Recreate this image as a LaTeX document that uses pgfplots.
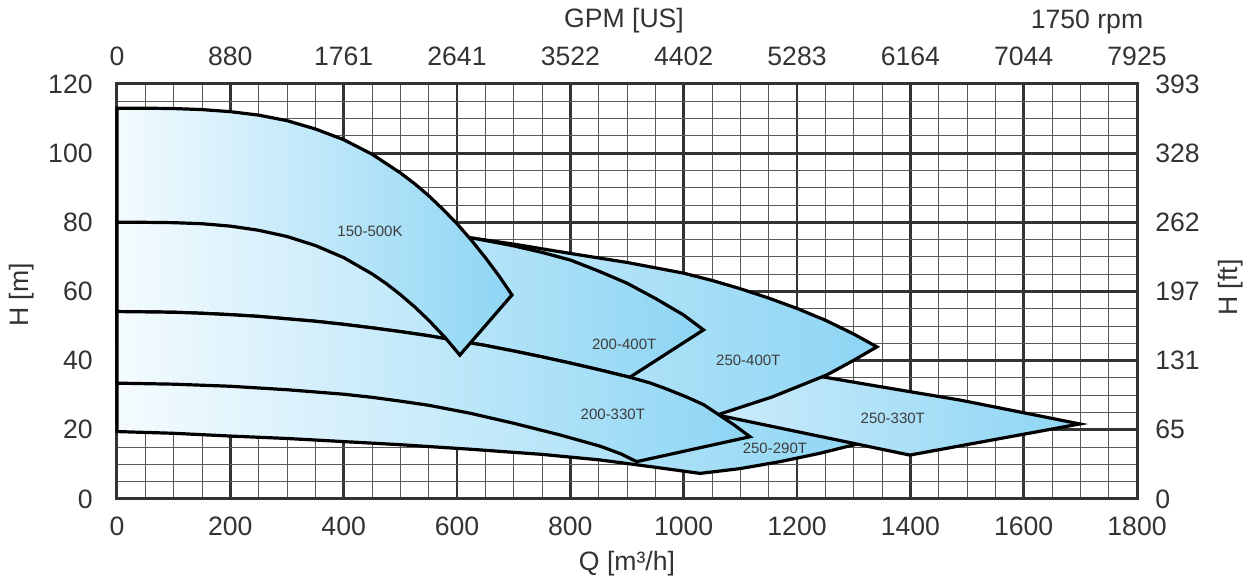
\documentclass[border=0pt]{standalone}
\usepackage{pgfplots}
\pgfplotsset{compat=1.18}
\usepackage{fontspec}
\setmainfont{Liberation Sans}

\definecolor{txt}{HTML}{333333}
\definecolor{tagtxt}{HTML}{3D3D3D}
\definecolor{gridmaj}{HTML}{333333}
\definecolor{gridmin}{HTML}{5A5A5A}
\definecolor{pale}{HTML}{F4FBFE}
\definecolor{paleB}{HTML}{D6EFFB}
\definecolor{sky}{HTML}{8DD5F4}

\newcommand{\tickfont}{\fontsize{13.3}{16}\selectfont}
\newcommand{\tagfont}{\fontsize{7.5}{9}\selectfont}

\pgfplotsset{
  zone/.style={draw=black, line width=1.6pt, line join=miter, left color=pale, right color=sky},
}
\tikzset{
  tag/.style={font=\tagfont, text=tagtxt, anchor=center},
}

\begin{document}
\begin{tikzpicture}
% metric axes: Q in m3/h, H in m
\begin{axis}[
  at={(0,0)}, anchor=south west,
  scale only axis, width=510pt, height=207.5pt,
  xmin=0, xmax=1800, ymin=0, ymax=120,
  xtick={0,200,...,1800},
  xticklabels={0,200,400,600,800,1000,1200,1400,1600,1800},
  ytick={0,20,...,120},
  yticklabels={0,20,40,60,80,100,120},
  minor x tick num=3, minor y tick num=3,
  xtick pos=bottom, ytick pos=left,
  major tick length=0pt, minor tick length=0pt,
  grid=both,
  major grid style={draw=gridmaj, line width=1.4pt},
  minor grid style={draw=gridmin, line width=0.5pt},
  axis line style={draw=gridmaj, line width=1.5pt},
  tick label style={font=\tickfont, text=txt},
  xticklabel style={anchor=base, yshift=-18.5pt},
  yticklabel style={anchor=east, inner sep=0pt, xshift=-12pt},
  clip=false,
]
% 250-290T
\addplot[zone] coordinates {
  (0,40) (0,19.5) (100,19.0) (200,18.2) (300,17.5) (400,16.6) (500,15.7)
  (623,14.4) (750,12.9) (852,11.3) (940,9.4) (1029,7.4)
  (1100,8.8) (1170,10.8) (1240,13.2) (1311,16.1)
  (1345,17.5) (1200,22) (1020,27.5) (600,30)
} -- cycle;
% 250-330T
\addplot[zone, left color=paleB] coordinates {
  (950,28) (1059,24.3) (1399,12.7) (1699,21.7) (1488,28.6) (1346,32.5)
  (1246,35.3) (1100,39.5) (950,44)
} -- cycle;
% 250-400T
\addplot[zone] coordinates {
  (0,82) (300,80) (500,77.5) (629,75.4) (700,73.7) (800,71.0) (900,68.4)
  (1000,65.3) (1050,63.2) (1100,60.8) (1150,58.1) (1200,55.1) (1250,51.7)
  (1300,47.7) (1341,44)
  (1300,40.1) (1253,35.9) (1200,32.4) (1156,29.5) (1100,26.5) (1059,24.3)
  (1000,21) (0,45)
} -- cycle;
% 200-400T
\addplot[zone] coordinates {
  (0,82) (300,80) (500,77.5) (629,75.4) (700,73.2) (750,71.3) (800,69.1)
  (850,65.9) (900,62.4) (950,58.0) (1000,53.2) (1035,48.9) (905,35.2)
  (850,37.4) (800,39.3) (750,41.1) (700,42.8) (650,44.4) (600,45.8)
  (550,47.2) (500,48.4) (450,49.5) (400,50.5) (350,51.4) (300,52.1)
  (250,52.8) (200,53.3) (150,53.7) (100,54.0) (50,54.1) (0,54.2)
} -- cycle;
% 200-330T
\addplot[zone] coordinates {
  (0,54.2) (50,54.1) (100,54.0) (150,53.7) (200,53.3) (250,52.8)
  (300,52.1) (350,51.4) (400,50.5) (450,49.5) (500,48.4) (550,47.2)
  (600,45.8) (650,44.4) (700,42.8) (750,41.1) (800,39.3) (850,37.4)
  (905,35.2) (940,33.6) (970,31.8) (1005,29.5) (1035,27.3) (1058,24.8)
  (1090,21.3) (1117,18)
  (917,10.8) (890,13.0) (852,15.3) (780,18.6) (700,21.9) (623,24.8)
  (550,27.1) (500,28.3) (450,29.4) (400,30.3) (300,31.6) (200,32.6)
  (100,33.2) (0,33.5)
} -- cycle;
% 150-500K
\addplot[zone] coordinates {
  (0,113) (50,113.0) (100,112.9) (150,112.6) (200,112.0) (250,111.0)
  (300,109.4) (350,107.0) (400,103.9) (450,99.7) (500,94.3) (525,91.2)
  (550,87.7) (575,83.8) (600,79.6) (625,74.9) (650,69.8) (675,64.3)
  (697,59) (605,41.6) (580,46.5) (550,51.7) (525,55.6) (500,59.1)
  (475,62.3) (450,65.1) (400,69.8) (350,73.3) (300,75.9) (250,77.7)
  (200,78.9) (150,79.6) (100,79.9) (50,80.0) (0,80)
} -- cycle;

\node[tag] at (axis cs:446.5,77.5) {150-500K};
\node[tag] at (axis cs:895,44.8) {200-400T};
\node[tag] at (axis cs:1114,40.0) {250-400T};
\node[tag] at (axis cs:875,24.6) {200-330T};
\node[tag] at (axis cs:1369,23.4) {250-330T};
\node[tag] at (axis cs:1161,14.7) {250-290T};
\end{axis}

% US units on the opposite sides: GPM and feet
\begin{axis}[
  at={(0,0)}, anchor=south west,
  scale only axis, width=510pt, height=207.5pt,
  xmin=0, xmax=1800, ymin=0, ymax=120,
  axis x line*=top, axis y line*=right,
  axis line style={draw=none},
  xtick={0,200,...,1800},
  xticklabels={0,880,1761,2641,3522,4402,5283,6164,7044,7925},
  ytick={0,20,...,120},
  yticklabels={0,65,131,197,262,328,393},
  major tick length=0pt,
  tick label style={font=\tickfont, text=txt},
  xticklabel style={anchor=base, yshift=9pt},
  yticklabel style={anchor=west, inner sep=0pt, xshift=9pt},
]
\end{axis}

\node[font=\tickfont, text=txt, anchor=base] at (255pt,-35.5pt) {Q [m³/h]};
\node[font=\tickfont, text=txt, anchor=base] at (253.5pt,235.5pt) {GPM [US]};
\node[font=\tickfont, text=txt, anchor=base] at (485pt,235pt) {1750 rpm};
\node[font=\tickfont, text=txt, rotate=90] at (-47.5pt,102pt) {H [m]};
\node[font=\tickfont, text=txt, rotate=90] at (557pt,105.75pt) {H [ft]};

\pgfresetboundingbox
\useasboundingbox (-58.5pt,-39pt) rectangle (567pt,249.5pt);
\end{tikzpicture}
\end{document}
